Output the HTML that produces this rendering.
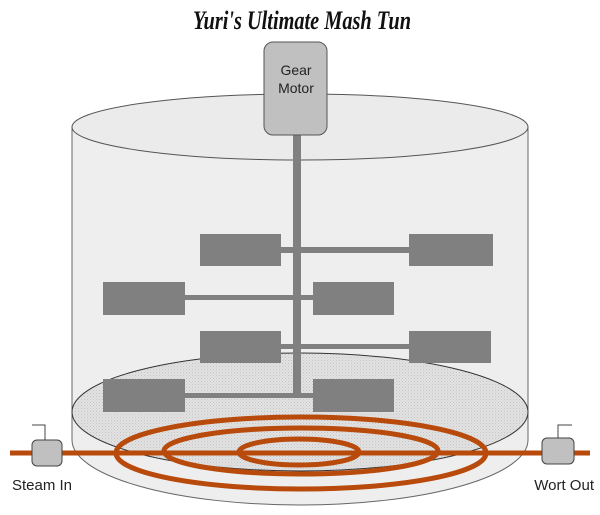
<!DOCTYPE html>
<html><head><meta charset="utf-8"><style>
html,body{margin:0;padding:0;background:#fff;}
svg{display:block;}
</style></head><body>
<svg width="600" height="515" viewBox="0 0 600 515" xmlns="http://www.w3.org/2000/svg">
<defs>
<pattern id="dots" width="3" height="3" patternUnits="userSpaceOnUse">
<rect width="3" height="3" fill="#e2e2e2"/>
<rect width="1" height="1" fill="#c4c4c4"/>
<rect x="1.5" y="1.5" width="1" height="1" fill="#cfcfcf"/>
</pattern>
</defs>
<text x="193" y="29" textLength="218" lengthAdjust="spacingAndGlyphs" font-family="Liberation Serif, serif" font-style="italic" font-weight="bold" font-size="26" fill="#111">Yuri's Ultimate Mash Tun</text>
<path d="M72,127 L72,440 A228,65 0 0 0 528,440 L528,127 Z" fill="#eeeeee" stroke="#666" stroke-width="1"/>
<ellipse cx="300" cy="127" rx="228" ry="33" fill="#ebebeb" stroke="#555" stroke-width="1"/>
<ellipse cx="300" cy="412" rx="228" ry="59" fill="url(#dots)" stroke="#333" stroke-width="1"/>
<rect x="293" y="130" width="8" height="266" fill="#808080"/>
<rect x="281" y="247" width="128" height="6" fill="#808080"/>
<rect x="185" y="295" width="128" height="5" fill="#808080"/>
<rect x="281" y="344" width="128" height="5" fill="#808080"/>
<rect x="185" y="393" width="128" height="5" fill="#808080"/>
<g fill="#808080">
<rect x="200" y="234" width="81" height="32"/>
<rect x="409" y="234" width="84" height="32"/>
<rect x="103" y="282" width="82" height="33"/>
<rect x="313" y="282" width="81" height="33"/>
<rect x="200" y="331" width="81" height="32"/>
<rect x="409" y="331" width="82" height="32"/>
<rect x="103" y="379" width="82" height="33"/>
<rect x="313" y="379" width="81" height="33"/>
</g>
<rect x="264" y="42" width="63" height="93" rx="9" fill="#c0c0c0" stroke="#555" stroke-width="1"/>
<text x="296" y="75" text-anchor="middle" font-family="Liberation Sans, sans-serif" font-size="14" fill="#222">Gear</text>
<text x="296" y="93" text-anchor="middle" font-family="Liberation Sans, sans-serif" font-size="14" fill="#222">Motor</text>
<g fill="none" stroke="#b84a0c" stroke-width="5">
<line x1="10" y1="453" x2="590" y2="453"/>
<ellipse cx="301" cy="453" rx="185" ry="36"/>
<ellipse cx="301" cy="451" rx="137" ry="23"/>
<ellipse cx="299" cy="452" rx="60" ry="13"/>
</g>
<g stroke="#444" stroke-width="1">
<polyline points="45,440 45,425 32,425" fill="none"/>
<polyline points="558,440 558,425 572,425" fill="none"/>
<rect x="32" y="440" width="30" height="26" rx="5" fill="#c0c0c0"/>
<rect x="542" y="438" width="32" height="26" rx="5" fill="#c0c0c0"/>
</g>
<text x="12" y="490" font-family="Liberation Sans, sans-serif" font-size="15" fill="#222">Steam In</text>
<text x="594" y="490" text-anchor="end" font-family="Liberation Sans, sans-serif" font-size="15" fill="#222">Wort Out</text>
</svg>
</body></html>
